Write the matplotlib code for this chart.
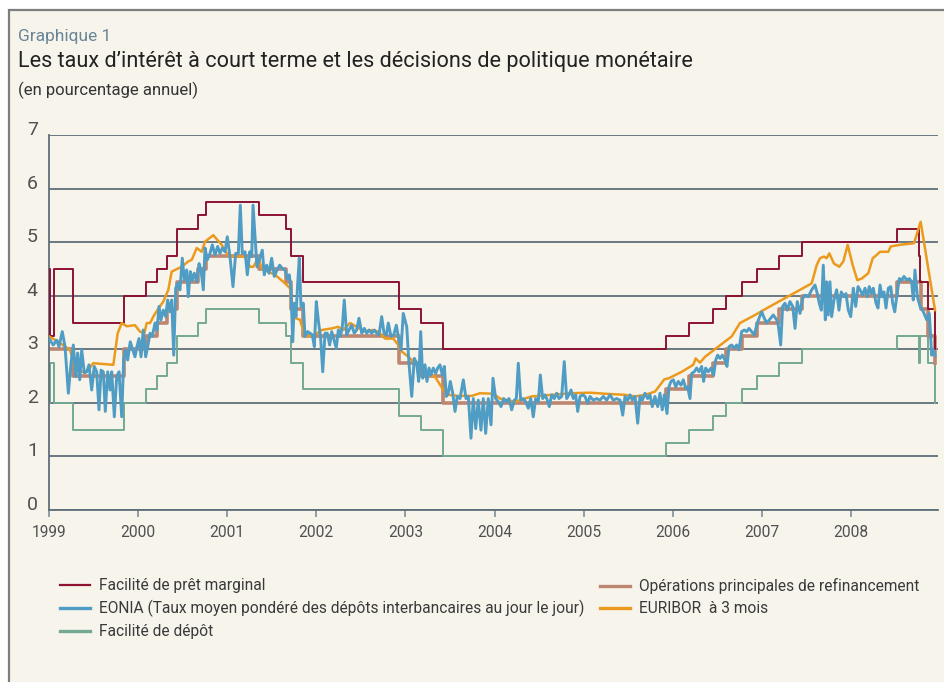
import numpy as np
import pandas as pd
import matplotlib
matplotlib.use('Agg')
import matplotlib.pyplot as plt
from matplotlib.patches import Rectangle
from matplotlib.lines import Line2D

plt.rcParams['font.family'] = ['Roboto', 'DejaVu Sans']

# ---- policy rates (step changes, value in force from the date) ----
mlf_dates = ['1999-01-01', '1999-01-04', '1999-01-22', '1999-04-09', '1999-11-05',
             '2000-02-04', '2000-03-17', '2000-04-28', '2000-06-09', '2000-09-01',
             '2000-10-06', '2001-05-11', '2001-08-31', '2001-09-18', '2001-11-09',
             '2002-12-06', '2003-03-07', '2003-06-06', '2005-12-06', '2006-03-08',
             '2006-06-15', '2006-08-09', '2006-10-11', '2006-12-13', '2007-03-14',
             '2007-06-13', '2008-07-09', '2008-10-08', '2008-10-09', '2008-11-12',
             '2008-12-10', '2008-12-12']
mlf_rate = [4.50, 3.25, 4.50, 3.50, 4.00, 4.25, 4.50, 4.75, 5.25, 5.50,
            5.75, 5.50, 5.25, 4.75, 4.25, 3.75, 3.50, 3.00, 3.25, 3.50,
            3.75, 4.00, 4.25, 4.50, 4.75, 5.00, 5.25, 4.75, 4.25, 3.75,
            3.00, 3.00]

mro_dates = ['1999-01-01', '1999-04-09', '1999-11-05', '2000-02-04', '2000-03-17',
             '2000-04-28', '2000-06-09', '2000-09-01', '2000-10-06', '2001-05-11',
             '2001-08-31', '2001-09-18', '2001-11-09', '2002-12-06', '2003-03-07',
             '2003-06-06', '2005-12-06', '2006-03-08', '2006-06-15', '2006-08-09',
             '2006-10-11', '2006-12-13', '2007-03-14', '2007-06-13', '2008-07-09',
             '2008-10-15', '2008-11-12', '2008-12-10', '2008-12-12']
mro_rate = [3.00, 2.50, 3.00, 3.25, 3.50, 3.75, 4.25, 4.50, 4.75, 4.50,
            4.25, 3.75, 3.25, 2.75, 2.50, 2.00, 2.25, 2.50, 2.75, 3.00,
            3.25, 3.50, 3.75, 4.00, 4.25, 3.75, 3.25, 2.75, 2.75]

dep_dates = ['1999-01-01', '1999-01-04', '1999-01-22', '1999-04-09', '1999-11-05',
             '2000-02-04', '2000-03-17', '2000-04-28', '2000-06-09', '2000-09-01',
             '2000-10-06', '2001-05-11', '2001-08-31', '2001-09-18', '2001-11-09',
             '2002-12-06', '2003-03-07', '2003-06-06', '2005-12-06', '2006-03-08',
             '2006-06-15', '2006-08-09', '2006-10-11', '2006-12-13', '2007-03-14',
             '2007-06-13', '2008-07-09', '2008-10-08', '2008-10-09', '2008-11-12',
             '2008-12-10', '2008-12-12']
dep_rate = [2.00, 2.75, 2.00, 1.50, 2.00, 2.25, 2.50, 2.75, 3.25, 3.50,
            3.75, 3.50, 3.25, 2.75, 2.25, 1.75, 1.50, 1.00, 1.25, 1.50,
            1.75, 2.00, 2.25, 2.50, 2.75, 3.00, 3.25, 2.75, 3.25, 2.75,
            2.00, 2.00]

# ---- market rates (time in years since 1 Jan 1999) ----
eonia_t = [
    0.000, 0.048, 0.086, 0.112, 0.149, 0.180, 0.217, 0.247, 0.273, 0.300,
    0.322, 0.345, 0.367, 0.396, 0.423, 0.449, 0.479, 0.508, 0.535, 0.561,
    0.584, 0.609, 0.632, 0.659, 0.685, 0.704, 0.733, 0.760, 0.786, 0.816,
    0.838, 0.861, 0.883, 0.912, 0.935, 0.965, 0.987, 1.010, 1.033, 1.058,
    1.085, 1.108, 1.134, 1.159, 1.190, 1.212, 1.235, 1.257, 1.283, 1.310,
    1.332, 1.358, 1.377, 1.400, 1.422, 1.444, 1.470, 1.496, 1.519, 1.545,
    1.563, 1.586, 1.608, 1.631, 1.658, 1.684, 1.706, 1.732, 1.751, 1.777,
    1.807, 1.833, 1.863, 1.893, 1.919, 1.945, 1.975, 2.001, 2.031, 2.065,
    2.095, 2.125, 2.147, 2.169, 2.200, 2.226, 2.253, 2.275, 2.290, 2.312,
    2.334, 2.365, 2.394, 2.416, 2.443, 2.469, 2.499, 2.529, 2.559, 2.589,
    2.618, 2.649, 2.675, 2.697, 2.716, 2.735, 2.753, 2.772, 2.791, 2.809,
    2.828, 2.854, 2.873, 2.903, 2.929, 2.955, 2.978,
    3.000, 3.022, 3.049, 3.072, 3.098, 3.123, 3.150, 3.173, 3.199, 3.224,
    3.247, 3.269, 3.292, 3.314, 3.341, 3.367, 3.397, 3.426, 3.453, 3.479,
    3.510, 3.539, 3.566, 3.591, 3.622, 3.651, 3.678, 3.704, 3.734, 3.760,
    3.786, 3.808, 3.838, 3.869, 3.898, 3.920, 3.951, 3.976,
    4.015, 4.040, 4.071, 4.100, 4.127, 4.149, 4.172, 4.194, 4.220, 4.242,
    4.265, 4.287, 4.313, 4.340, 4.362, 4.388, 4.414, 4.437, 4.459, 4.481,
    4.504, 4.531, 4.557, 4.582, 4.613, 4.650, 4.680, 4.706, 4.736, 4.762,
    4.789, 4.818, 4.848, 4.874, 4.901, 4.930, 4.961, 4.983,
    5.013, 5.043, 5.073, 5.103, 5.132, 5.163, 5.193, 5.222, 5.245, 5.267,
    5.294, 5.323, 5.350, 5.379, 5.406, 5.435, 5.462, 5.492, 5.514, 5.541,
    5.567, 5.593, 5.615, 5.642, 5.671, 5.698, 5.724, 5.754, 5.783, 5.810,
    5.836, 5.859, 5.884, 5.911, 5.934, 5.960, 5.990,
    6.016, 6.046, 6.072, 6.109, 6.147, 6.184, 6.221, 6.259, 6.296, 6.333,
    6.371, 6.409, 6.439, 6.465, 6.495, 6.521, 6.547, 6.577, 6.607, 6.633,
    6.659, 6.689, 6.719, 6.745, 6.771, 6.801, 6.832, 6.857, 6.883, 6.906,
    6.936, 6.958, 6.981,
    7.007, 7.034, 7.063, 7.093, 7.119, 7.146, 7.168, 7.194, 7.213, 7.242,
    7.269, 7.295, 7.325, 7.347, 7.370, 7.400, 7.430, 7.460, 7.483, 7.505,
    7.531, 7.557, 7.587, 7.609, 7.632, 7.662, 7.691, 7.718, 7.744, 7.774,
    7.804, 7.830, 7.856, 7.886, 7.916, 7.943, 7.969, 7.999,
    8.028, 8.055, 8.084, 8.129, 8.167, 8.185, 8.212, 8.234, 8.260, 8.286,
    8.316, 8.347, 8.373, 8.398, 8.429, 8.459, 8.485, 8.522, 8.560, 8.597,
    8.623, 8.645, 8.668, 8.690, 8.713, 8.728, 8.746, 8.765, 8.784, 8.810,
    8.840, 8.866, 8.892, 8.922, 8.945, 8.971, 8.998,
    9.027, 9.054, 9.080, 9.102, 9.132, 9.158, 9.184, 9.206, 9.229, 9.251,
    9.282, 9.304, 9.327, 9.349, 9.371, 9.394, 9.420, 9.447, 9.469, 9.492,
    9.514, 9.543, 9.570, 9.596, 9.626, 9.655, 9.682, 9.700, 9.719, 9.746,
    9.776, 9.813, 9.851, 9.880, 9.907, 9.925, 9.944]
eonia = [
    3.20, 3.08, 3.17, 3.05, 3.33, 3.05, 2.18, 2.74, 3.08, 2.49,
    2.93, 2.43, 2.99, 2.56, 2.58, 2.71, 2.24, 2.68, 2.58, 1.87,
    2.61, 2.58, 1.84, 2.58, 2.24, 2.58, 1.74, 2.49, 2.58, 1.74,
    2.80, 2.99, 2.80, 3.14, 3.02, 2.86, 3.05, 3.20, 2.86, 3.36,
    2.86, 3.05, 3.30, 3.24, 3.49, 3.36, 3.80, 3.55, 3.73, 3.61,
    3.92, 3.70, 3.92, 2.89, 4.14, 4.23, 4.11, 4.70, 4.29, 4.48,
    3.98, 4.45, 4.29, 4.42, 4.26, 4.60, 4.48, 4.11, 4.89, 4.67,
    4.79, 4.95, 4.76, 4.92, 4.79, 4.89, 4.82, 5.10, 4.73, 4.17,
    4.79, 4.79, 5.69, 4.79, 4.82, 4.39, 4.82, 4.73, 5.69, 5.10,
    4.54, 4.70, 4.85, 4.39, 4.57, 4.42, 4.70, 4.36, 4.48, 4.57,
    4.51, 4.48, 4.32, 4.39, 4.11, 3.14, 3.86, 3.61, 4.23, 4.70,
    3.80, 3.86, 3.24, 3.33, 3.30, 3.27, 3.05,
    3.89, 3.55, 3.20, 2.58, 3.30, 3.30, 3.08, 3.33, 3.17, 3.02,
    3.36, 3.24, 3.42, 3.92, 3.27, 3.36, 3.45, 3.30, 3.36, 3.58,
    3.30, 3.39, 3.30, 3.36, 3.30, 3.36, 3.30, 3.27, 3.61, 3.30,
    3.27, 3.49, 3.24, 3.27, 3.45, 3.24, 2.99, 3.67,
    3.42, 2.74, 2.12, 2.83, 2.74, 2.40, 3.33, 2.46, 2.71, 2.40,
    2.65, 2.52, 2.65, 2.55, 2.65, 2.71, 2.52, 2.68, 2.12, 2.18,
    2.40, 2.18, 1.84, 2.12, 2.08, 2.43, 2.08, 2.12, 1.34, 2.08,
    1.52, 2.05, 1.49, 2.08, 1.43, 2.08, 1.59, 2.46,
    2.08, 2.02, 1.93, 2.08, 2.02, 2.08, 1.87, 2.05, 2.08, 2.74,
    2.05, 2.08, 2.02, 1.90, 2.08, 1.74, 2.08, 2.02, 2.52, 2.08,
    2.15, 2.05, 1.93, 2.15, 2.08, 2.18, 2.08, 2.12, 2.77, 2.08,
    2.15, 2.24, 2.08, 2.15, 1.84, 2.12, 2.15,
    2.12, 1.99, 2.12, 2.05, 2.08, 2.05, 2.12, 2.05, 2.15, 2.05,
    2.08, 2.05, 1.77, 2.12, 2.05, 2.15, 2.05, 2.12, 1.62, 2.12,
    2.05, 2.18, 2.08, 2.15, 1.93, 2.12, 1.93, 2.18, 1.87, 2.15,
    1.80, 2.30, 2.40,
    2.43, 2.30, 2.40, 2.33, 2.43, 2.27, 2.30, 2.08, 2.55, 2.58,
    2.65, 2.58, 2.68, 2.40, 2.65, 2.58, 2.65, 2.52, 2.80, 2.89,
    2.83, 2.89, 2.80, 2.68, 3.05, 3.08, 3.02, 3.08, 2.99, 3.33,
    3.36, 3.33, 3.39, 3.33, 3.27, 3.45, 3.58, 3.70,
    3.58, 3.49, 3.55, 3.64, 3.55, 3.45, 3.08, 3.80, 3.86, 3.73,
    3.89, 3.80, 3.39, 3.89, 3.67, 3.95, 4.01, 3.98, 4.11, 4.20,
    4.04, 3.86, 3.73, 4.57, 3.55, 4.26, 3.64, 4.26, 3.61, 3.92,
    4.11, 3.73, 4.07, 3.98, 4.04, 3.73, 3.61,
    4.14, 3.80, 4.17, 4.11, 4.01, 4.14, 3.98, 4.17, 4.04, 4.14,
    3.86, 3.77, 4.20, 3.98, 4.07, 3.77, 4.14, 4.17, 3.86, 3.70,
    3.98, 4.32, 4.29, 4.36, 4.29, 4.32, 4.26, 3.92, 4.48, 3.98,
    3.80, 3.70, 3.55, 3.67, 2.89, 2.99, 2.89]

euribor_t = [
    0.000, 0.104, 0.180, 0.236, 0.292, 0.367, 0.423, 0.497, 0.722, 0.771,
    0.816, 0.872, 0.965, 1.021, 1.070, 1.097, 1.134, 1.171, 1.227, 1.283,
    1.339, 1.377, 1.414, 1.489, 1.563, 1.602, 1.658, 1.714, 1.751, 1.844,
    1.938, 2.012, 2.051, 2.200, 2.256, 2.293, 2.349, 2.387, 2.461, 2.536,
    2.630, 2.705, 2.742, 2.769, 2.817, 2.873, 2.985, 3.061, 3.173, 3.247,
    3.303, 3.378, 3.453, 3.547, 3.622, 3.696, 3.771, 3.864, 3.920, 3.958,
    4.033, 4.071, 4.164, 4.220, 4.332, 4.425, 4.481, 4.594, 4.744, 4.837,
    4.987, 5.062, 5.230, 5.417, 5.642, 5.866, 6.072, 6.240, 6.465, 6.577,
    6.689, 6.801, 6.857, 6.906, 6.958, 7.101, 7.231, 7.258, 7.306, 7.363,
    7.512, 7.662, 7.755, 7.924, 8.092, 8.560, 8.616, 8.653, 8.698, 8.728,
    8.758, 8.810, 8.870, 8.915, 8.964, 9.020, 9.072, 9.121, 9.195, 9.245,
    9.289, 9.327, 9.420, 9.447, 9.551, 9.708, 9.783, 9.944]
euribor = [
    3.24, 3.14, 3.05, 2.99, 2.65, 2.58, 2.58, 2.74, 2.71, 3.30,
    3.49, 3.43, 3.45, 3.33, 3.30, 3.49, 3.49, 3.61, 3.76, 3.89,
    4.11, 4.45, 4.48, 4.54, 4.64, 4.67, 4.89, 4.82, 5.01, 5.13,
    4.95, 4.75, 4.73, 4.73, 4.54, 4.54, 4.70, 4.51, 4.45, 4.39,
    4.26, 4.14, 3.61, 3.58, 3.55, 3.24, 3.27, 3.36, 3.39, 3.42,
    3.36, 3.49, 3.42, 3.33, 3.36, 3.33, 3.20, 3.20, 3.08, 2.96,
    2.86, 2.80, 2.65, 2.55, 2.49, 2.24, 2.15, 2.13, 2.13, 2.18,
    2.17, 2.08, 2.02, 2.12, 2.15, 2.18, 2.19, 2.17, 2.15, 2.12,
    2.15, 2.21, 2.33, 2.44, 2.46, 2.58, 2.71, 2.83, 2.75, 2.86,
    3.05, 3.24, 3.49, 3.64, 3.80, 4.23, 4.57, 4.70, 4.73, 4.70,
    4.79, 4.60, 4.54, 4.64, 4.95, 4.57, 4.29, 4.32, 4.42, 4.70,
    4.76, 4.82, 4.82, 4.92, 4.95, 4.98, 5.38, 3.73]

years = list(range(1999, 2009))
labels = ['Facilité de prêt marginal',
          'EONIA (Taux moyen pondéré des dépôts interbancaires au jour le jour)',
          'Facilité de dépôt',
          'Opérations principales de refinancement',
          'EURIBOR  à 3 mois']

c_mlf, c_eonia, c_dep, c_mro, c_eur = '#8C1230', '#4F9CC4', '#74A892', '#BC8670', '#EC9A1E'
grid_c = '#5E6F79'
txt_c = '#505050'


def dec_year(dates):
    d = pd.to_datetime(pd.Series(dates))
    ndays = np.where(d.dt.is_leap_year, 366, 365)
    return (d.dt.year + (d.dt.dayofyear - 1) / ndays).to_numpy()


fig = plt.figure(figsize=(9.44, 6.82), dpi=100, facecolor='white')
fig.patches.append(Rectangle((9 / 944, -0.1), 1.0, 1.1 - 10 / 682,
                             transform=fig.transFigure, facecolor='#F7F4EC',
                             edgecolor='#7E7E7E', lw=1.6, zorder=-10))

fig.text(18 / 944, 1 - 37 / 682, 'Graphique 1', fontsize=12.5, color='#6A8595',
         va='center', ha='left')
fig.text(18 / 944, 1 - 62 / 682, "Les taux d\u2019intérêt à court terme et les décisions de politique monétaire",
         fontsize=15.6, color='#222222', va='center', ha='left')
fig.text(18 / 944, 1 - 90 / 682, '(en pourcentage annuel)', fontsize=12,
         color='#333333', va='center', ha='left')

ax = fig.add_axes([49 / 944, 1 - 510 / 682, (938 - 49) / 944, (510 - 135) / 682])
ax.set_facecolor('none')

ax.plot(dec_year(dep_dates), dep_rate, drawstyle='steps-post', color=c_dep, lw=1.4, zorder=2)
ax.plot(dec_year(mro_dates), mro_rate, drawstyle='steps-post', color=c_mro, lw=2.6, zorder=2)
ax.plot(dec_year(mlf_dates), mlf_rate, drawstyle='steps-post', color=c_mlf, lw=1.4, zorder=3)
ax.plot(1999 + np.array(euribor_t), euribor, color=c_eur, lw=1.8, zorder=4)
ax.plot(1999 + np.array(eonia_t), eonia, color=c_eonia, lw=2.1, zorder=5)

ax.set_xlim(1999, 1999 + (938 - 49) / 89.1)
ax.set_ylim(0, 7)
ax.set_yticks(range(0, 8))
ax.set_xticks(years)
ax.set_xticklabels([str(y) for y in years])
ax.grid(axis='y', color=grid_c, lw=1.3, zorder=1)
for s in ['top', 'right']:
    ax.spines[s].set_visible(False)
for s in ['left', 'bottom']:
    ax.spines[s].set_color(grid_c)
    ax.spines[s].set_linewidth(1.3)
ax.tick_params(axis='y', length=0, pad=8, labelsize=14, labelcolor=txt_c)
ax.tick_params(axis='x', length=5, width=1.2, color='#7D8E98', pad=6,
               labelsize=11.2, labelcolor=txt_c)
for t in ax.get_yticklabels():
    t.set_verticalalignment('baseline')

handles = [Line2D([], [], color=c_mlf, lw=1.6),
           Line2D([], [], color=c_eonia, lw=2.4),
           Line2D([], [], color=c_dep, lw=2.4),
           Line2D([], [], color=c_mro, lw=2.4),
           Line2D([], [], color=c_eur, lw=2.4)]
leg_kw = dict(loc='upper left', frameon=False, borderpad=0, borderaxespad=0,
              handlelength=1.9, handletextpad=0.6, labelspacing=0.45,
              prop={'family': 'Roboto', 'size': 11.2},
              labelcolor='#3A3A3A')
leg1 = fig.legend(handles[:3], labels[:3], bbox_to_anchor=(60 / 944, 1 - 578 / 682), **leg_kw)
leg2 = fig.legend(handles[3:], labels[3:], bbox_to_anchor=(600 / 944, 1 - 578 / 682), **leg_kw)

fig.savefig('out.png', dpi=100, facecolor=fig.get_facecolor())
